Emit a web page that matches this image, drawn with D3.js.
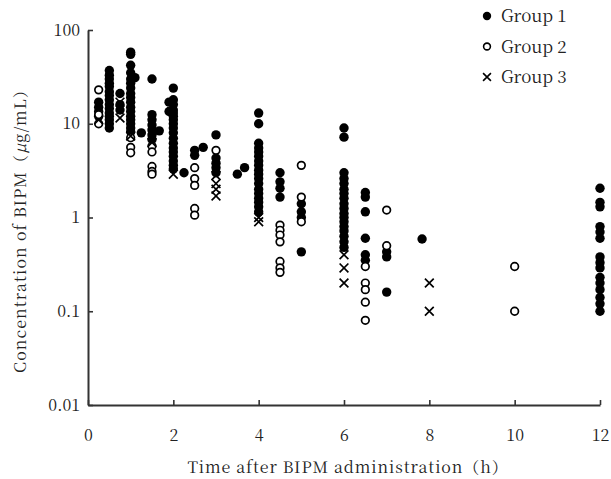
<!DOCTYPE html>
<html>
<head>
<meta charset="utf-8">
<script src="https://cdn.jsdelivr.net/npm/d3@7"></script>
<style>
  html, body { margin: 0; padding: 0; background: #fff; }
  svg text { font-family: "Noto Serif CJK SC", "Liberation Serif", serif; fill: #222; }
</style>
</head>
<body>
<svg id="chart" width="611" height="479"></svg>
<script>
// Plasma BIPM concentration (µg/mL) vs time after dosing (h), three dosing groups
const group1 = [
  [0.25, 17], [0.25, 15], [0.25, 13.5], [0.25, 12],
  [0.5, 37], [0.5, 33], [0.5, 30], [0.5, 27], [0.5, 25], [0.5, 22], [0.5, 20], [0.5, 18],
  [0.5, 16], [0.5, 14.5], [0.5, 13], [0.5, 12], [0.5, 11], [0.5, 10], [0.5, 9],
  [0.75, 21], [0.75, 16], [0.75, 14],
  [1, 58], [1, 55], [1, 42], [1, 35], [1, 30], [1, 27], [1, 24], [1, 21], [1, 19], [1, 17],
  [1, 15], [1, 13.5], [1, 12], [1, 11], [1, 10], [1, 9], [1, 8.2],
  [1.1, 31], [1.25, 8],
  [1.5, 30], [1.5, 12.5], [1.5, 11], [1.5, 9.7], [1.5, 8.6], [1.5, 7.6], [1.5, 6.8],
  [1.67, 8.4], [1.9, 17], [1.9, 13.5],
  [2, 24], [2, 18], [2, 16], [2, 14], [2, 13], [2, 12], [2, 11], [2, 10], [2, 9], [2, 8],
  [2, 7], [2, 6.2], [2, 5.5], [2, 5], [2, 4.5], [2, 4], [2, 3.6], [2, 3.3],
  [2.25, 3.0], [2.5, 5.2], [2.5, 4.6], [2.7, 5.6],
  [3, 7.6], [3, 4.3], [3, 3.8], [3, 3.4], [3, 3.0],
  [3.5, 2.9], [3.67, 3.4],
  [4, 13], [4, 10], [4, 6.2], [4, 5.5], [4, 5], [4, 4.5], [4, 4], [4, 3.6], [4, 3.2], [4, 2.9],
  [4, 2.6], [4, 2.3], [4, 2], [4, 1.8], [4, 1.6], [4, 1.45], [4, 1.3], [4, 1.15],
  [4.5, 3.0], [4.5, 2.4], [4.5, 2.05], [4.5, 1.65],
  [5, 1.4], [5, 1.15], [5, 1.0], [5, 0.43],
  [6, 9], [6, 7.2], [6, 3.0], [6, 2.6], [6, 2.3], [6, 2.0], [6, 1.8], [6, 1.6], [6, 1.4],
  [6, 1.25], [6, 1.1], [6, 1.0], [6, 0.9], [6, 0.8], [6, 0.72], [6, 0.63], [6, 0.55], [6, 0.48],
  [6.5, 1.85], [6.5, 1.65], [6.5, 1.15], [6.5, 0.6], [6.5, 0.4], [6.5, 0.35],
  [7, 0.43], [7, 0.38], [7, 0.16],
  [7.83, 0.59],
  [12, 2.05], [12, 1.45], [12, 1.3], [12, 0.8], [12, 0.7], [12, 0.6], [12, 0.38], [12, 0.33],
  [12, 0.29], [12, 0.23], [12, 0.2], [12, 0.17], [12, 0.14], [12, 0.12], [12, 0.1]
];

const group2 = [
  [0.25, 23], [0.25, 12.5], [0.25, 10],
  [1, 7.1], [1, 5.6], [1, 4.9],
  [1.5, 5.8], [1.5, 5.0], [1.5, 3.5], [1.5, 3.1], [1.5, 2.9],
  [2.5, 3.4], [2.5, 2.6], [2.5, 2.2], [2.5, 1.25], [2.5, 1.06],
  [3, 5.2],
  [4.5, 0.83], [4.5, 0.73], [4.5, 0.65], [4.5, 0.55], [4.5, 0.34], [4.5, 0.29], [4.5, 0.26],
  [5, 3.6], [5, 1.65], [5, 0.9],
  [6.5, 0.3], [6.5, 0.2], [6.5, 0.17], [6.5, 0.125], [6.5, 0.08],
  [7, 1.2], [7, 0.5],
  [10, 0.3], [10, 0.1]
];

const group3 = [
  [0.25, 11],
  [0.75, 17], [0.75, 11.5],
  [1, 7.4],
  [1.5, 6.3],
  [2, 2.9],
  [3, 2.8], [3, 2.3], [3, 2.0], [3, 1.7],
  [4, 1.0], [4, 0.9],
  [6, 0.4], [6, 0.29], [6, 0.2],
  [8, 0.2], [8, 0.1]
];

const xTicks = [0, 2, 4, 6, 8, 10, 12];
const yTicks = [0.01, 0.1, 1, 10, 100];
const yTickLabels = ["0.01", "0.1", "1", "10", "100"];
const legendLabels = ["Group 1", "Group 2", "Group 3"];

const svg = d3.select("#chart");
const ink = "#1a1a1a";
const serif = '"Noto Serif CJK SC", "Liberation Serif", serif';

const x = d3.scaleLinear().domain([0, 12]).range([88, 600]);
const y = d3.scaleLog().domain([0.01, 100]).range([405, 30]);

// Axes with inward ticks
const xAxis = d3.axisBottom(x)
  .tickValues(xTicks)
  .tickFormat(d3.format("d"))
  .tickSize(-5)
  .tickSizeOuter(0)
  .tickPadding(25);
const yAxis = d3.axisLeft(y)
  .tickValues(yTicks)
  .tickFormat((d, i) => yTickLabels[i])
  .tickSize(-5)
  .tickSizeOuter(0)
  .tickPadding(8);

const gx = svg.append("g").attr("transform", `translate(0,${y(0.01)})`).call(xAxis);
const gy = svg.append("g").attr("transform", `translate(${x(0)},0)`).call(yAxis);

[gx, gy].forEach(g => {
  g.select(".domain").attr("stroke", "#333").attr("stroke-width", 2);
  g.selectAll(".tick line").attr("stroke", "#333").attr("stroke-width", 1.6);
  g.selectAll(".tick text")
    .attr("fill", ink)
    .style("font-family", serif)
    .style("font-size", "16px");
});

// Axis titles
svg.append("text")
  .attr("x", 348)
  .attr("y", 473)
  .attr("text-anchor", "middle")
  .style("font-size", "16px")
  .style("letter-spacing", "0.9px")
  .text("Time after BIPM administration（h）");

const yTitle = svg.append("text")
  .attr("transform", "translate(26,227) rotate(-90)")
  .attr("text-anchor", "middle")
  .style("font-size", "16px")
  .style("letter-spacing", "1.1px");
yTitle.append("tspan").text("Concentration of BIPM（");
yTitle.append("tspan").style("font-style", "italic").text("μ");
yTitle.append("tspan").text("g/mL）");

// Markers
const plot = svg.append("g");

plot.selectAll("circle.g1")
  .data(group1)
  .join("circle")
  .attr("class", "g1")
  .attr("cx", d => x(d[0]))
  .attr("cy", d => y(d[1]))
  .attr("r", 4.7)
  .attr("fill", "#000");

plot.selectAll("circle.g2")
  .data(group2)
  .join("circle")
  .attr("class", "g2")
  .attr("cx", d => x(d[0]))
  .attr("cy", d => y(d[1]))
  .attr("r", 3.8)
  .attr("fill", "#fff")
  .attr("stroke", "#000")
  .attr("stroke-width", 1.7);

const cross = d3.symbol().type(d3.symbolX).size(52);
plot.selectAll("path.g3")
  .data(group3)
  .join("path")
  .attr("class", "g3")
  .attr("transform", d => `translate(${x(d[0])},${y(d[1])})`)
  .attr("d", cross)
  .attr("fill", "none")
  .attr("stroke", "#000")
  .attr("stroke-width", 1.7);

// Legend
const legend = svg.append("g").attr("transform", "translate(487,16)");
const rowGap = 30.5;
const legendCross = d3.symbol().type(d3.symbolX).size(42);
legend.append("circle").attr("cx", 0).attr("cy", 0).attr("r", 4.2).attr("fill", "#000");
legend.append("circle").attr("cx", 0).attr("cy", rowGap).attr("r", 3.4)
  .attr("fill", "#fff").attr("stroke", "#000").attr("stroke-width", 1.6);
legend.append("path").attr("transform", `translate(0,${rowGap * 2})`)
  .attr("d", legendCross).attr("fill", "none").attr("stroke", "#000").attr("stroke-width", 1.6);
legend.selectAll("text.lg")
  .data(legendLabels)
  .join("text")
  .attr("class", "lg")
  .attr("x", 14)
  .attr("y", (d, i) => i * rowGap + 6)
  .style("font-size", "17px")
  .text(d => d);
</script>
</body>
</html>
